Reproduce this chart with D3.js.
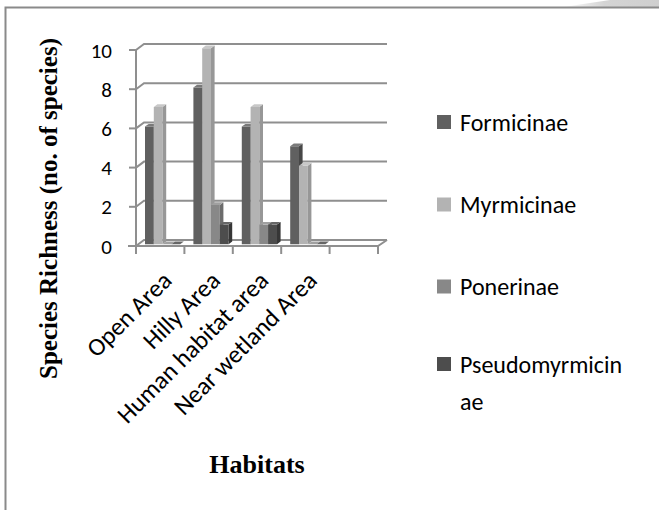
<!DOCTYPE html>
<html>
<head>
<meta charset="utf-8">
<script src="https://cdn.jsdelivr.net/npm/d3@7"></script>
<style>
  body { margin: 0; background: #fff; }
  svg { display: block; }
</style>
</head>
<body>
<svg id="chart"></svg>
<script>
// data
const habitats = ['Open Area', 'Hilly Area', 'Human habitat area', 'Near wetland Area', ''];
const subfamilies = ['Formicinae', 'Myrmicinae', 'Ponerinae', 'Pseudomyrmicinae'];
const formicinae = [6, 8, 6, 5];
const myrmicinae = [7, 10, 7, 4];
const ponerinae = [0, 2, 1, 0];
const pseudomyrmicinae = [0, 1, 1, 0];
const yTicks = [0, 2, 4, 6, 8, 10];

const seriesValues = [formicinae, myrmicinae, ponerinae, pseudomyrmicinae];

// colours: front, side, top
const shades = [
    { front: '#606060', side: '#474747', top: '#7a7a7a' },
    { front: '#b3b3b3', side: '#979797', top: '#c8c8c8' },
    { front: '#888888', side: '#6c6c6c', top: '#a0a0a0' },
    { front: '#4d4d4d', side: '#363636', top: '#666666' }
];

const W = 659, H = 510;
const svg = d3.select('#chart').attr('width', W).attr('height', H);

const sans = 'Carlito, Calibri, Lato, sans-serif';
const serif = '"Liberation Serif", "Times New Roman", serif';

// page curl + border
const defs = svg.append('defs');
const grad = defs.append('linearGradient').attr('id', 'curl')
    .attr('x1', '0%').attr('x2', '100%');
grad.append('stop').attr('offset', '0%').attr('stop-color', '#ffffff');
grad.append('stop').attr('offset', '45%').attr('stop-color', '#d4d4d4');
grad.append('stop').attr('offset', '100%').attr('stop-color', '#cfcfcf');
svg.append('path')
    .attr('d', 'M560,7.5 L610,0 L659,0 L659,7.5 Z')
    .attr('fill', 'url(#curl)');
svg.append('path')
    .attr('d', 'M5.5,510 L5.5,7.5 L659,7.5')
    .attr('fill', 'none')
    .attr('stroke', '#8a8a8a')
    .attr('stroke-width', 2);

// 3d geometry
const depth = { dx: 8, dy: -6 };
const x0 = d3.scaleBand().domain(habitats).range([136, 378]).padding(0);
const x1 = d3.scaleBand().domain(subfamilies).range([0, x0.bandwidth()])
    .paddingInner(0).paddingOuter(0.75);
const y = d3.scaleLinear().domain([0, 10]).range([246, 50]);

const shift = (p, f) => [p[0] + depth.dx * f, p[1] + depth.dy * f];
const poly = pts => 'M' + pts.map(p => p.join(',')).join('L') + 'Z';

const gridColor = '#8f8f8f';
const g = svg.append('g');

// back wall gridlines and left wall diagonals
yTicks.forEach(t => {
    const yf = y(t);
    g.append('path')
        .attr('d', `M${136},${yf} L${136 + depth.dx},${yf + depth.dy} L${387},${yf + depth.dy}`)
        .attr('fill', 'none')
        .attr('stroke', gridColor)
        .attr('stroke-width', 2);
});

// floor
g.append('path')
    .attr('d', `M128,246 L378,246 L387,240`)
    .attr('fill', 'none')
    .attr('stroke', gridColor)
    .attr('stroke-width', 2);

// y axis line + ticks
g.append('line')
    .attr('x1', 136).attr('x2', 136)
    .attr('y1', y(10)).attr('y2', y(0))
    .attr('stroke', gridColor).attr('stroke-width', 2);
yTicks.forEach(t => {
    g.append('line')
        .attr('x1', 129).attr('x2', 136)
        .attr('y1', y(t)).attr('y2', y(t))
        .attr('stroke', gridColor).attr('stroke-width', 2);
});

// category ticks
const catEdges = habitats.map(h => x0(h)).concat([x0.range()[1]]);
catEdges.forEach(cx => {
    g.append('line')
        .attr('x1', cx).attr('x2', cx)
        .attr('y1', 246).attr('y2', 254)
        .attr('stroke', gridColor).attr('stroke-width', 2);
});

// bars
const f1 = 0.3, f2 = 0.75;
habitats.forEach((h, i) => {
    subfamilies.forEach((s, j) => {
        const v = seriesValues[j][i];
        if (v === undefined) return;
        const xl = x0(h) + x1(s);
        const xr = xl + x1.bandwidth();
        const yt = y(v), yb = y(0);
        const c = shades[j];
        // front
        g.append('path')
            .attr('d', poly([shift([xl, yt], f1), shift([xr, yt], f1), shift([xr, yb], f1), shift([xl, yb], f1)]))
            .attr('fill', c.front);
        // side
        g.append('path')
            .attr('d', poly([shift([xr, yt], f1), shift([xr, yt], f2), shift([xr, yb], f2), shift([xr, yb], f1)]))
            .attr('fill', c.side);
        // top
        g.append('path')
            .attr('d', poly([shift([xl, yt], f1), shift([xr, yt], f1), shift([xr, yt], f2), shift([xl, yt], f2)]))
            .attr('fill', c.top);
    });
});

// y tick labels
g.selectAll('.ylab')
    .data(yTicks)
    .enter()
    .append('text')
    .attr('x', 112)
    .attr('y', d => y(d))
    .attr('dy', '0.36em')
    .style('text-anchor', 'end')
    .style('font-family', sans)
    .style('font-size', '21px')
    .attr('fill', '#000')
    .text(d => d);

// category labels, rotated
g.selectAll('.xlab')
    .data(habitats.filter(h => h))
    .enter()
    .append('text')
    .attr('transform', d => `translate(${x0(d) + x0.bandwidth() / 2 + 13},${282}) rotate(-45)`)
    .style('text-anchor', 'end')
    .style('font-family', sans)
    .style('font-size', '25px')
    .attr('fill', '#000')
    .text(d => d);

// axis titles
svg.append('text')
    .attr('transform', 'translate(57,208.5) rotate(-90)')
    .style('text-anchor', 'middle')
    .style('font-family', serif)
    .style('font-weight', 'bold')
    .style('font-size', '25px')
    .text('Species Richness (no. of species)');

svg.append('text')
    .attr('x', 257)
    .attr('y', 473)
    .style('text-anchor', 'middle')
    .style('font-family', serif)
    .style('font-weight', 'bold')
    .style('font-size', '26px')
    .text('Habitats');

// legend
const legendY = [122, 204.5, 286.5, 364];
const legendLines = [['Formicinae'], ['Myrmicinae'], ['Ponerinae'], ['Pseudomyrmicin', 'ae']];
subfamilies.forEach((s, j) => {
    svg.append('rect')
        .attr('x', 437)
        .attr('y', legendY[j] - 7)
        .attr('width', 14)
        .attr('height', 14)
        .attr('fill', shades[j].front);
    const t = svg.append('text')
        .attr('x', 460)
        .attr('y', legendY[j])
        .style('font-family', sans)
        .style('font-size', '24px')
        .attr('fill', '#000');
    legendLines[j].forEach((line, k) => {
        t.append('tspan')
            .attr('x', 460)
            .attr('dy', k === 0 ? '0.36em' : '1.54em')
            .text(line);
    });
});
</script>
</body>
</html>
